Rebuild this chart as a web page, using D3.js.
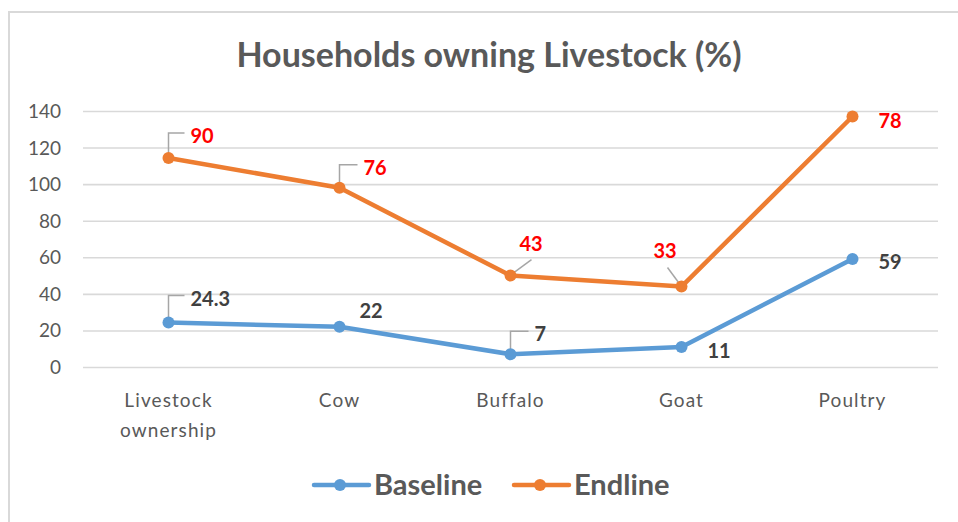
<!DOCTYPE html>
<html>
<head>
<meta charset="utf-8">
<script src="https://cdn.jsdelivr.net/npm/d3@7"></script>
<style>
  html, body { margin: 0; padding: 0; background: #fff; }
  svg { display: block; font-family: Lato, "Open Sans", sans-serif; }
</style>
</head>
<body>
<svg id="chart" width="958" height="522"></svg>
<script>
// Categories and the two survey rounds (percent of households)
const categories = ["Livestock ownership", "Cow", "Buffalo", "Goat", "Poultry"];
const baseline = [24.3, 22, 7, 11, 59];
const endline = [90, 76, 43, 33, 78];
const seriesNames = ["Baseline", "Endline"];
const yTicks = [0, 20, 40, 60, 80, 100, 120, 140];

const colors = { Baseline: "#5B9BD5", Endline: "#ED7D31" };
const labelColors = { Baseline: "#404040", Endline: "#FF0000" };

const svg = d3.select("#chart");
const W = 958, H = 522;
const plotLeft = 83, plotRight = 938;
const plotTop = 111, plotBottom = 367;

// Outer chart frame
svg.append("rect")
  .attr("x", 9).attr("y", 12)
  .attr("width", W + 20).attr("height", H + 20)
  .attr("fill", "#fff").attr("stroke", "#d9d9d9").attr("stroke-width", 2);

// Title
svg.append("text")
  .attr("x", 489).attr("y", 67)
  .attr("text-anchor", "middle")
  .attr("font-size", 34).attr("font-weight", 700)
  .attr("fill", "#595959")
  .text("Households owning Livestock (%)");

// Stacked series: the Endline line sits on top of Baseline
const rows = categories.map((c, i) => ({ category: c, Baseline: baseline[i], Endline: endline[i] }));
const stacked = d3.stack().keys(seriesNames)(rows);

const x = d3.scalePoint()
  .domain(categories)
  .range([plotLeft, plotRight])
  .padding(0.5);

const y = d3.scaleLinear()
  .domain([0, 140])
  .range([plotBottom, plotTop]);

// Gridlines and y-axis labels
const yAxis = d3.axisLeft(y).tickValues(yTicks).tickSize(-(plotRight - plotLeft)).tickPadding(22);
const gy = svg.append("g").attr("transform", `translate(${plotLeft},0)`).call(yAxis);
gy.select(".domain").remove();
gy.selectAll(".tick line").attr("stroke", "#d9d9d9").attr("stroke-width", 1.6);
gy.selectAll(".tick text")
  .attr("font-size", 19).attr("fill", "#595959")
  .attr("font-family", "Lato, 'Open Sans', sans-serif")
  .attr("dy", "0.34em");

// Category labels (wrapped onto two lines where needed)
const catLabelWrap = { "Livestock ownership": ["Livestock", "ownership"] };
const gx = svg.append("g");
categories.forEach(c => {
  const lines = catLabelWrap[c] || [c];
  const t = gx.append("text")
    .attr("x", x(c)).attr("y", 407)
    .attr("text-anchor", "middle")
    .attr("font-size", 19).attr("fill", "#595959")
    .attr("letter-spacing", 1.1);
  lines.forEach((ln, i) => {
    t.append("tspan").attr("x", x(c)).attr("dy", i === 0 ? 0 : 30).text(ln);
  });
});

// Lines and markers
const line = d3.line()
  .x(d => x(d.data.category))
  .y(d => y(d[1]));

stacked.forEach(s => {
  svg.append("path")
    .datum(s)
    .attr("d", line)
    .attr("fill", "none")
    .attr("stroke", colors[s.key])
    .attr("stroke-width", 4.5)
    .attr("stroke-linejoin", "round")
    .attr("stroke-linecap", "round");
});

// Data label placement (offsets from each point, px) and leader lines
const labelPlacement = {
  Baseline: [
    { dx: 22, dy: -24, leader: "elbow" },
    { dx: 20, dy: -16, leader: null },
    { dx: 24, dy: -20, leader: "elbow" },
    { dx: 26, dy: 4, leader: null },
    { dx: 26, dy: 3, leader: null }
  ],
  Endline: [
    { dx: 22, dy: -22, leader: "elbow" },
    { dx: 24, dy: -20, leader: "elbow" },
    { dx: 9, dy: -32, leader: "diag" },
    { dx: -28, dy: -36, leader: "diagLeft" },
    { dx: 26, dy: 5, leader: null }
  ]
};

stacked.forEach(s => {
  const g = svg.append("g");
  s.forEach((d, i) => {
    const px = x(d.data.category), py = y(d[1]);
    const p = labelPlacement[s.key][i];
    const lx = px + p.dx, ly = py + p.dy;
    if (p.leader === "elbow") {
      g.append("path")
        .attr("d", `M${px},${py} V${ly - 3} H${lx - 6}`)
        .attr("fill", "none").attr("stroke", "#a6a6a6").attr("stroke-width", 1.5);
    } else if (p.leader === "diag") {
      g.append("line")
        .attr("x1", px + 2).attr("y1", py - 2)
        .attr("x2", lx + 12).attr("y2", ly + 16)
        .attr("stroke", "#a6a6a6").attr("stroke-width", 1.5);
    } else if (p.leader === "diagLeft") {
      g.append("line")
        .attr("x1", px).attr("y1", py)
        .attr("x2", lx + 14).attr("y2", ly + 17)
        .attr("stroke", "#a6a6a6").attr("stroke-width", 1.5);
    }
    g.append("circle")
      .attr("cx", px).attr("cy", py).attr("r", 6)
      .attr("fill", colors[s.key]);
    g.append("text")
      .attr("x", lx).attr("y", ly)
      .attr("dy", "0.35em")
      .attr("font-size", 20).attr("font-weight", 700)
      .attr("fill", labelColors[s.key])
      .text(d.data[s.key]);
  });
});

// Legend
const legendItems = [
  { name: "Baseline", x0: 314 },
  { name: "Endline", x0: 514 }
];
const lg = svg.append("g");
legendItems.forEach(it => {
  const cy = 485;
  lg.append("line")
    .attr("x1", it.x0).attr("x2", it.x0 + 55)
    .attr("y1", cy).attr("y2", cy)
    .attr("stroke", colors[it.name]).attr("stroke-width", 4.5)
    .attr("stroke-linecap", "round");
  lg.append("circle")
    .attr("cx", it.x0 + 26).attr("cy", cy).attr("r", 6)
    .attr("fill", colors[it.name]);
  lg.append("text")
    .attr("x", it.x0 + 60).attr("y", cy)
    .attr("dy", "0.35em")
    .attr("font-size", 29).attr("font-weight", 700)
    .attr("fill", "#595959")
    .text(it.name);
});
</script>
</body>
</html>
